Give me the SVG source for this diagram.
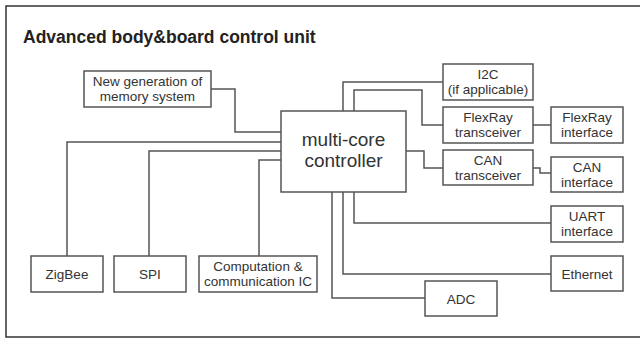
<svg xmlns="http://www.w3.org/2000/svg" width="640" height="338" viewBox="0 0 640 338">
<style>
.box{fill:#fff;stroke:#555;stroke-width:1.5}
.ln{fill:none;stroke:#555;stroke-width:1.5}
text{font-family:"Liberation Sans",Arial,sans-serif;fill:#333;text-anchor:middle}
.t{font-size:13.5px}
.big{font-size:19px}
.title{font-size:17.5px;font-weight:bold;text-anchor:start;fill:#222}
</style>
<rect width="640" height="338" fill="#fff"/>
<path d="M640,6 H6 V337 H640" fill="none" stroke="#333" stroke-width="1.5"/>
<text class="title" x="23" y="42.5">Advanced body&amp;board control unit</text>
<g id="connectors">
<path class="ln" d="M211,89 H235 V132 H281"/>
<path class="ln" d="M281,142 H67 V256"/>
<path class="ln" d="M281,151 H149 V256"/>
<path class="ln" d="M281,160 H259 V256"/>
<path class="ln" d="M343,111 V82 H443"/>
<path class="ln" d="M354,111 V90 H422 V125 H443"/>
<path class="ln" d="M533,125 H551"/>
<path class="ln" d="M406,151 H424 V168 H443"/>
<path class="ln" d="M533,168 H540 V173 H551"/>
<path class="ln" d="M354,192 V223 H551"/>
<path class="ln" d="M343,192 V274 H551"/>
<path class="ln" d="M332,192 V298 H425"/>
</g>
<g id="memory"><rect class="box" x="84" y="71" width="127" height="36"/><text class="t" x="147.5" y="86">New generation of</text><text class="t" x="147.5" y="101">memory system</text></g>
<g id="controller"><rect class="box" x="281" y="111" width="125" height="81"/><text class="big" x="343.5" y="146">multi-core</text><text class="big" x="343.5" y="167">controller</text></g>
<g id="i2c"><rect class="box" x="443" y="64" width="90" height="36"/><text class="t" x="488" y="79">I2C</text><text class="t" x="488" y="94">(if applicable)</text></g>
<g id="flexray-tx"><rect class="box" x="443" y="107" width="90" height="36"/><text class="t" x="488" y="122">FlexRay</text><text class="t" x="488" y="137">transceiver</text></g>
<g id="flexray-if"><rect class="box" x="551" y="107" width="72" height="36"/><text class="t" x="587" y="122">FlexRay</text><text class="t" x="587" y="137">interface</text></g>
<g id="can-tx"><rect class="box" x="443" y="150" width="90" height="35"/><text class="t" x="488" y="164.5">CAN</text><text class="t" x="488" y="179.5">transceiver</text></g>
<g id="can-if"><rect class="box" x="551" y="157" width="72" height="35"/><text class="t" x="587" y="171.5">CAN</text><text class="t" x="587" y="186.5">interface</text></g>
<g id="uart"><rect class="box" x="551" y="206" width="72" height="36"/><text class="t" x="587" y="221">UART</text><text class="t" x="587" y="236">interface</text></g>
<g id="ethernet"><rect class="box" x="551" y="256" width="72" height="35"/><text class="t" x="587" y="278.5">Ethernet</text></g>
<g id="adc"><rect class="box" x="425" y="281" width="72" height="35"/><text class="t" x="461" y="303.5">ADC</text></g>
<g id="zigbee"><rect class="box" x="31" y="256" width="72" height="36"/><text class="t" x="67" y="279">ZigBee</text></g>
<g id="spi"><rect class="box" x="114" y="256" width="72" height="36"/><text class="t" x="150" y="279">SPI</text></g>
<g id="comp"><rect class="box" x="199" y="256" width="118" height="36"/><text class="t" x="258" y="271">Computation &amp;</text><text class="t" x="258" y="286">communication IC</text></g>
</svg>
